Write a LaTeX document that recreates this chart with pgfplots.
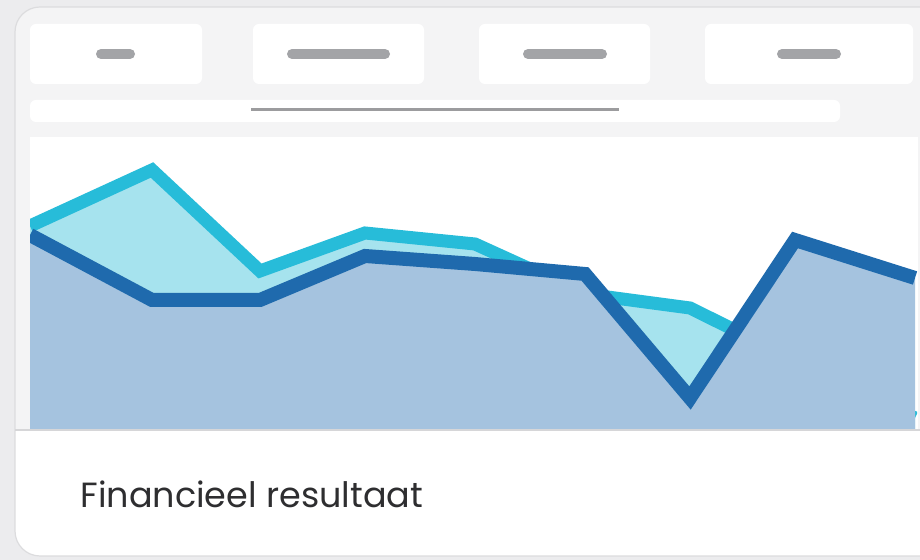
\documentclass[border=0pt]{standalone}
\usepackage{fontspec}
\setmainfont{Poppins}
\usepackage{pgfplots}
\pgfplotsset{compat=1.18}

\definecolor{pagebg}{HTML}{ECECEE}
\definecolor{cardbg}{HTML}{F4F4F5}
\definecolor{cardedge}{HTML}{DCDCDE}
\definecolor{pill}{HTML}{A3A4A7}
\definecolor{rule}{HTML}{9C9C9E}
\definecolor{basel}{HTML}{D6D6D8}
\definecolor{cyanline}{HTML}{27BCD9}
\definecolor{cyanfill}{HTML}{A6E3EE}
\definecolor{darkline}{HTML}{1F6AAD}
\definecolor{darkfill}{HTML}{A5C3DF}
\definecolor{txt}{HTML}{2E2E30}

% heights above the baseline, x along the chart area
\pgfplotstableread{
x   y
0   204
122 260
230 159
335 197
445 186
555 136
660 122
765 70
885 12
}\cyanseries
\pgfplotstableread{
x   y
0   195
122 130
230 130
335 174
445 166
555 156
660 32
765 190
885 152
}\darkseries

\begin{document}
\begin{tikzpicture}[x=0.5pt,y=0.5pt]
\useasboundingbox (0,0) rectangle (920,560);
\fill[pagebg] (0,0) rectangle (920,560);

% card
\begin{scope}
  \clip[rounded corners=12.5pt] (15,4) rectangle (960,553);
  \fill[white] (15,4) rectangle (960,553);
  \fill[cardbg] (15,130) rectangle (960,553);
\end{scope}
\draw[cardedge, line width=0.6pt, rounded corners=12.5pt] (15,4) rectangle (960,553);

% top row of tabs
\foreach \a/\b/\p/\q in {30/202/101/130, 253/424/292/385, 479/650/528/602, 705/913/782/836} {
  \fill[white, rounded corners=3pt] (\a,476) rectangle (\b,536);
  \draw[pill, line width=5pt, line cap=round] (\p,506) -- (\q,506);
}

% slider bar
\fill[white, rounded corners=3pt] (30,438) rectangle (840,460);
\draw[rule, line width=1.5pt] (251,450) -- (619,450);

% chart area
\fill[white] (30,130) rectangle (918,423);

\begin{axis}[
    at={(15pt,65pt)},
    anchor=south west,
    width=443.5pt,
    height=146.5pt,
    scale only axis,
    xmin=0, xmax=887,
    ymin=0, ymax=293,
    hide axis,
    line join=miter,
  ]
  \addplot[fill=cyanfill, draw=none] table {\cyanseries} \closedcycle;
  \addplot[cyanline, line width=6.5pt] table {\cyanseries};
  \addplot[fill=darkfill, draw=none] table {\darkseries} \closedcycle;
  \addplot[darkline, line width=7pt] table {\darkseries};
\end{axis}

\draw[basel, line width=0.8pt] (15,130) -- (920,130);

\node[anchor=base west, inner sep=0pt, text=txt,
      font=\fontsize{17.5}{20}\selectfont] at (80,52) {Financieel resultaat};
\end{tikzpicture}
\end{document}
